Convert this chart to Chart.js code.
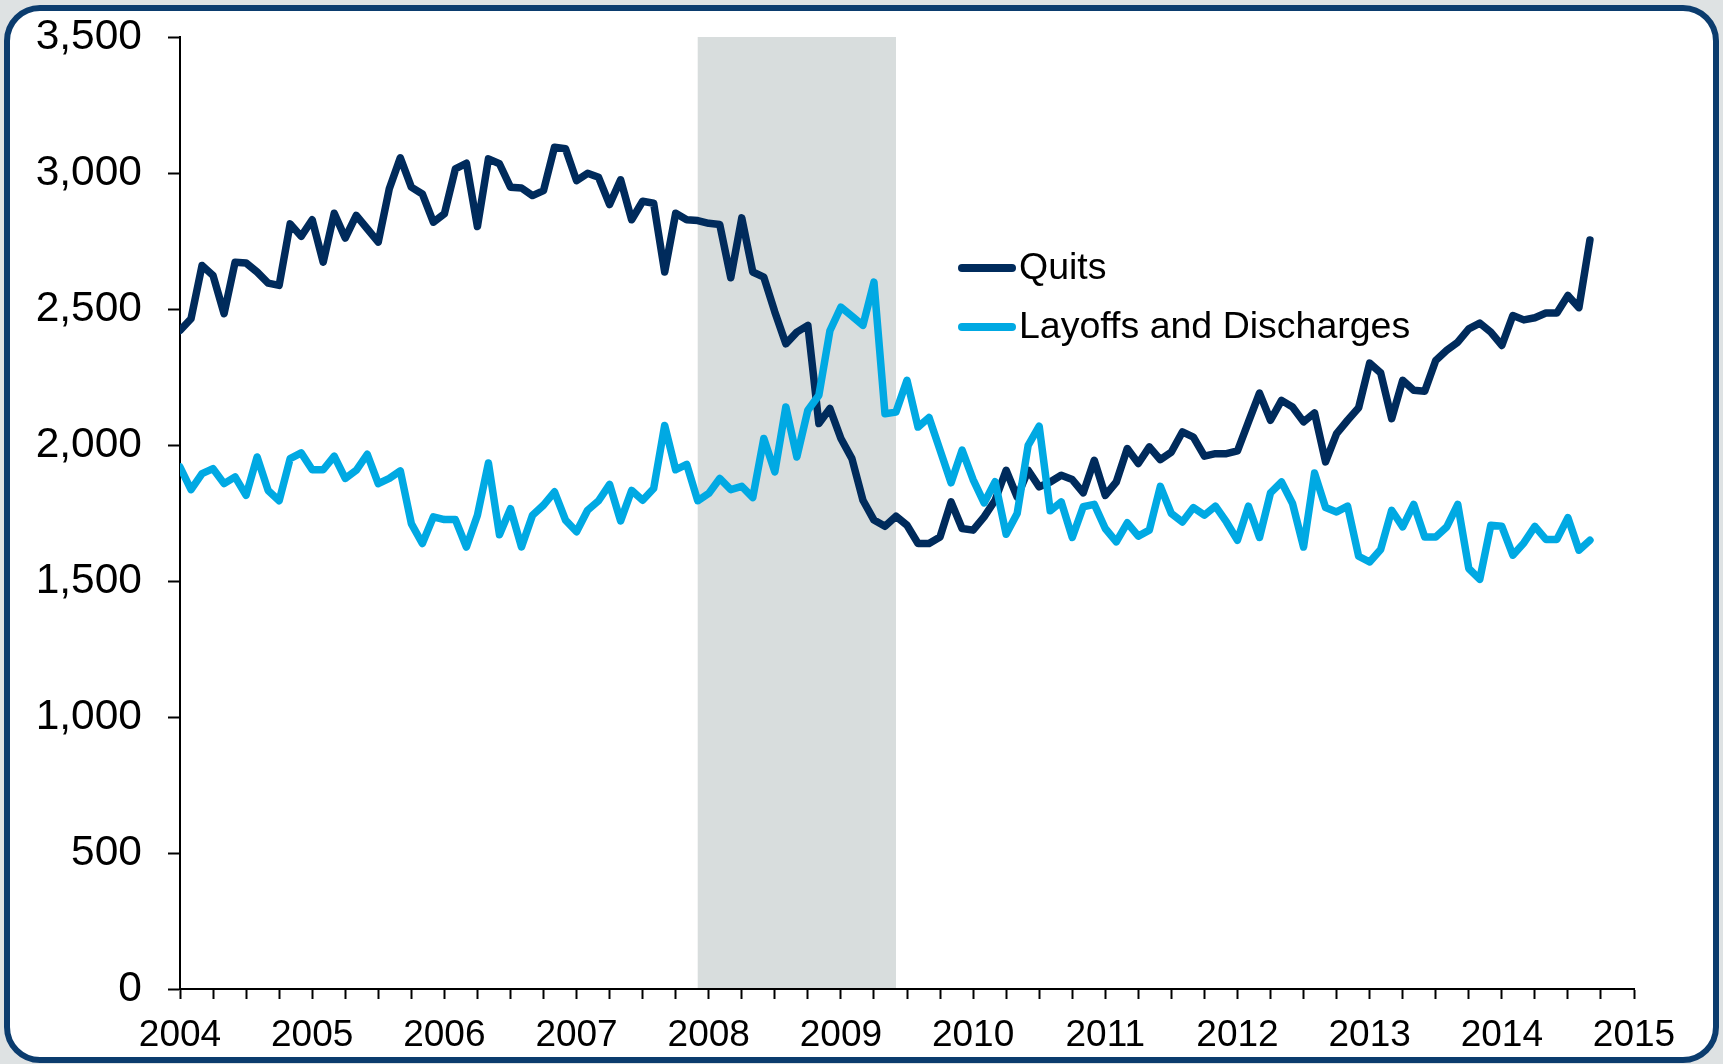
<!DOCTYPE html>
<html>
<head>
<meta charset="utf-8">
<script src="https://cdn.jsdelivr.net/npm/chart.js@4/dist/chart.umd.min.js"></script>
<style>
html,body{margin:0;padding:0;background:#DEE2E3;width:1723px;height:1064px;overflow:hidden}
#frame{position:absolute;left:4px;top:5px;width:1703px;height:1046px;border:6px solid #0B3C6E;border-radius:36px;background:#fff}
#c{position:absolute;left:0;top:0}
</style>
</head>
<body>
<div id="frame"></div>
<canvas id="c" width="1723" height="1064"></canvas>
<script>
// ---- Data (monthly, Jan 2004 .. Sep 2014), thousands ----
const startYear = 2004;
const endYear = 2015;
const seriesNames = ["Quits", "Layoffs and Discharges"];
const quits = [
 2421,2464,2660,2623,2483,2672,2669,2636,2595,2587,2813,2767,
 2828,2672,2852,2761,2844,2795,2746,2942,3056,2948,2923,2819,
 2850,3015,3036,2803,3052,3034,2948,2945,2917,2935,3095,3089,
 2972,2999,2984,2884,2975,2828,2896,2889,2636,2852,2828,2825,
 2815,2811,2615,2835,2636,2617,2489,2372,2415,2440,2079,2134,
 2024,1950,1797,1724,1701,1738,1705,1638,1638,1662,1791,1693,
 1687,1736,1797,1907,1809,1907,1846,1864,1889,1873,1824,1944,
 1815,1864,1987,1932,1993,1946,1974,2048,2029,1959,1968,1968,
 1978,2085,2191,2091,2164,2140,2085,2118,1938,2042,2091,2137,
 2301,2265,2097,2238,2201,2198,2311,2348,2378,2427,2448,2415,
 2366,2476,2460,2468,2485,2485,2550,2505,2754
];
const layoffs = [
 1919,1836,1895,1913,1858,1883,1815,1956,1833,1795,1950,1971,
 1909,1909,1959,1877,1907,1966,1858,1877,1905,1711,1638,1736,
 1726,1726,1625,1742,1934,1670,1766,1625,1742,1779,1828,1724,
 1681,1760,1795,1855,1721,1833,1797,1840,2072,1909,1929,1795,
 1822,1877,1836,1848,1807,2024,1901,2140,1956,2128,2183,2420,
 2507,2474,2440,2599,2115,2121,2238,2066,2101,1981,1861,1981,
 1873,1787,1865,1672,1748,1999,2069,1758,1791,1660,1773,1782,
 1693,1644,1714,1665,1687,1848,1748,1717,1770,1742,1775,1717,
 1650,1775,1660,1824,1864,1785,1625,1897,1770,1754,1775,1591,
 1570,1616,1760,1699,1782,1662,1662,1699,1782,1546,1506,1705,
 1701,1595,1640,1701,1653,1653,1733,1613,1650
];
// recession (month index from Jan 2004): Dec 2007 .. Jun 2009
const recession = [47, 65];
const yTicks = [0, 500, 1000, 1500, 2000, 2500, 3000, 3500];

const toPoints = arr => arr.map((v, i) => ({x: i, y: v}));
const QUITS_COLOR = '#002B5C';
const LAYOFF_COLOR = '#00A9E3';

Chart.defaults.font.family = "'Liberation Sans', Arial, sans-serif";
Chart.defaults.color = '#000';

const recessionPlugin = {
  id: 'recession',
  beforeDraw(chart) {
    const {ctx, chartArea, scales} = chart;
    const x0 = scales.x.getPixelForValue(recession[0]);
    const x1 = scales.x.getPixelForValue(recession[1]);
    ctx.save();
    ctx.fillStyle = '#D8DDDD';
    ctx.fillRect(x0, chartArea.top, x1 - x0, chartArea.bottom - chartArea.top);
    ctx.restore();
  }
};

const legendPlugin = {
  id: 'customLegend',
  afterDatasetsDraw(chart) {
    const {ctx} = chart;
    const items = [
      {label: seriesNames[0], color: QUITS_COLOR, y: 268},
      {label: seriesNames[1], color: LAYOFF_COLOR, y: 327}
    ];
    ctx.save();
    ctx.font = "37.5px 'Liberation Sans', Arial, sans-serif";
    ctx.textBaseline = 'middle';
    ctx.textAlign = 'left';
    items.forEach(it => {
      ctx.strokeStyle = it.color;
      ctx.lineWidth = 8;
      ctx.lineCap = 'round';
      ctx.beginPath();
      ctx.moveTo(962, it.y);
      ctx.lineTo(1012, it.y);
      ctx.stroke();
      ctx.fillStyle = '#000';
      ctx.fillText(it.label, 1019, it.y + 1);
    });
    ctx.restore();
  }
};

new Chart(document.getElementById('c'), {
  type: 'line',
  data: {
    datasets: [
      {label: seriesNames[0], data: toPoints(quits), borderColor: QUITS_COLOR, borderWidth: 7.5,
       pointRadius: 0, tension: 0, borderJoinStyle: 'round', borderCapStyle: 'round', order: 1},
      {label: seriesNames[1], data: toPoints(layoffs), borderColor: LAYOFF_COLOR, borderWidth: 7.5,
       pointRadius: 0, tension: 0, borderJoinStyle: 'round', borderCapStyle: 'round', order: 0}
    ]
  },
  options: {
    responsive: false,
    animation: false,
    layout: {padding: {left: 0, right: 89, top: 0, bottom: 0}},
    plugins: {legend: {display: false}, tooltip: {enabled: false}},
    scales: {
      x: {
        type: 'linear', min: 0, max: (endYear - startYear) * 12,
        afterFit: s => { s.height = 75; },
        ticks: {
          stepSize: 3, autoSkip: false, maxRotation: 0, minRotation: 0,
          callback: v => (v % 12 === 0 ? String(startYear + v / 12) : ''),
          font: {size: 37}, color: '#000', padding: 15
        },
        grid: {display: true, drawOnChartArea: false, drawTicks: true, tickLength: 10, tickColor: '#000', tickWidth: 2},
        border: {display: true, color: '#000', width: 2}
      },
      y: {
        min: yTicks[0], max: yTicks[yTicks.length - 1],
        afterFit: s => { s.width = 180; s.paddingTop = 37; s.paddingBottom = 20; },
        afterBuildTicks: s => { s.ticks = yTicks.map(v => ({value: v})); },
        ticks: {
          callback: v => v.toLocaleString('en-US'),
          font: {size: 42.5}, color: '#000', padding: 26
        },
        grid: {display: true, drawOnChartArea: false, drawTicks: true, tickLength: 12, tickColor: '#000', tickWidth: 2},
        border: {display: true, color: '#000', width: 2}
      }
    }
  },
  plugins: [recessionPlugin, legendPlugin]
});
</script>
</body>
</html>
